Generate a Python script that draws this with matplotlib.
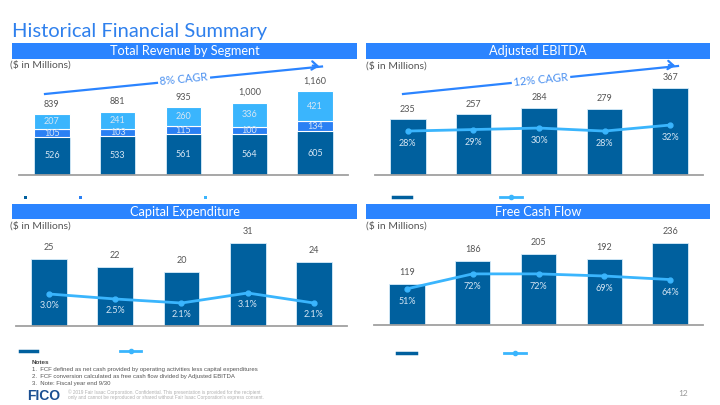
import matplotlib
matplotlib.use('Agg')
import matplotlib.pyplot as plt
from matplotlib.patches import Rectangle, FancyArrowPatch
from matplotlib.lines import Line2D

plt.rcParams['font.family'] = ['Lato', 'DejaVu Sans']

# data
years = ['FY15', 'FY16', 'FY17', 'FY18', 'FY19']
seg_bottom = [526, 533, 561, 564, 605]
seg_mid = [105, 103, 115, 100, 134]
seg_top = [207, 241, 260, 336, 421]
rev_total = [839, 881, 935, 1000, 1160]

ebitda = [235, 257, 284, 279, 367]
ebitda_margin = [28, 29, 30, 28, 32]

capex = [25, 22, 20, 31, 24]
capex_pct = [3.0, 2.5, 2.1, 3.1, 2.1]

fcf = [119, 186, 205, 192, 236]
fcf_conv = [51, 72, 72, 69, 64]

notes = ['1.  FCF defined as net cash provided by operating activities less capital expenditures',
         '2.  FCF conversion calculated as free cash flow divided by Adjusted EBITDA',
         '3.  Note: Fiscal year end 9/30']

DARK = '#00609e'
MID = '#2a80f4'
LIGHT = '#3ab5fd'
HEAD = '#2b84ff'
GREY = '#555555'
INNER = '#d6e6f4'

W, H = 720, 405
fig = plt.figure(figsize=(W / 100, H / 100), dpi=100)
fig.patch.set_facecolor('white')


def px_axes(l, t, r, b):
    return fig.add_axes([l / W, 1 - b / H, (r - l) / W, (b - t) / H])


def fx(x):
    return x / W


def fy(y):
    return 1 - y / H


def style(ax):
    for s in ['top', 'right', 'left']:
        ax.spines[s].set_visible(False)
    ax.spines['bottom'].set_color('#a0a0a0')
    ax.spines['bottom'].set_linewidth(1.3)
    ax.set_xticks([])
    ax.set_yticks([])
    ax.set_xlim(-0.5, 4.5)
    ax.patch.set_alpha(0)


def header(x0, x1, y0, y1, text):
    fig.patches.append(Rectangle((fx(x0), fy(y1)), fx(x1 - x0), (y1 - y0) / H,
                                 transform=fig.transFigure, facecolor=HEAD, edgecolor='none'))
    fig.text(fx((x0 + x1) / 2), fy((y0 + y1) / 2), text, color='white', fontsize=9.2,
             ha='center', va='center')


def cagr(x0, y0, x1, y1, label, tx, ty):
    fig.add_artist(Line2D([fx(x0), fx(x1)], [fy(y0), fy(y1)], color=HEAD, lw=1.6,
                          transform=fig.transFigure))
    fig.patches.append(FancyArrowPatch(
        (fx(x1 - 12), fy(y1 - 1.2)), (fx(x1), fy(y1)), transform=fig.transFigure,
        arrowstyle='->,head_length=4,head_width=3', color=HEAD, lw=1.6))
    fig.text(fx(tx), fy(ty), label, color='#4a90f0', fontsize=8, ha='center', va='center',
             rotation=5.6, bbox=dict(facecolor='white', edgecolor='none', pad=1.5))


# title
fig.text(fx(12), fy(31), 'Historical Financial Summary', color='#2f80ed', fontsize=14.5,
         ha='left', va='center')

header(12, 357, 43, 59, 'Total Revenue by Segment')
header(366, 710, 43, 59, 'Adjusted EBITDA')
header(12, 357, 204, 219, 'Capital Expenditure')
header(366, 710, 204, 219, 'Free Cash Flow')

for x, y in [(10, 65), (366, 66), (10, 226), (366, 226)]:
    fig.text(fx(x), fy(y), '($ in Millions)', color=GREY, fontsize=7.5, ha='left', va='center')

x = list(range(len(years)))
bw = 0.54
edge = dict(edgecolor='#d8ecfa', linewidth=0.6)

# revenue
ax1 = px_axes(19, 60, 348, 175)
style(ax1)
ax1.set_ylim(0, 115 / 0.0724)
ax1.bar(x, seg_bottom, bw, color=DARK, **edge)
ax1.bar(x, seg_mid, bw, bottom=seg_bottom, color=MID, edgecolor='white', linewidth=0.8)
mid_top = [a + b for a, b in zip(seg_bottom, seg_mid)]
ax1.bar(x, seg_top, bw, bottom=mid_top, color=LIGHT, edgecolor='white', linewidth=0.8)
for i in x:
    ax1.text(i, seg_bottom[i] / 2, str(seg_bottom[i]), color=INNER, fontsize=6.5, ha='center', va='center')
    ax1.text(i, seg_bottom[i] + seg_mid[i] / 2, str(seg_mid[i]), color=INNER, fontsize=6.5, ha='center', va='center')
    ax1.text(i, mid_top[i] + seg_top[i] / 2, str(seg_top[i]), color=INNER, fontsize=6.5, ha='center', va='center')
    ax1.annotate(f'{rev_total[i]:,}', (i, mid_top[i] + seg_top[i]), xytext=(0, 4),
                 textcoords='offset points', color=GREY, fontsize=6.5, ha='center', va='bottom')
cagr(45, 94, 322, 66.5, '8% CAGR', 184, 79.5)

# ebitda
ax2 = px_axes(375, 60, 703, 175)
style(ax2)
ax2.set_ylim(0, 115 / 0.237)
ax2.bar(x, ebitda, bw, color=DARK, **edge)
for i in x:
    ax2.annotate(str(ebitda[i]), (i, ebitda[i]), xytext=(0, 4), textcoords='offset points',
                 color=GREY, fontsize=6.5, ha='center', va='bottom')
ax2b = ax2.twinx()
style(ax2b)
ax2b.spines['bottom'].set_visible(False)
ax2b.set_ylim(-1.3, 115 / 1.5 - 1.3)
ax2b.plot(x, ebitda_margin, color=LIGHT, lw=2, marker='o', ms=3.5)
for i in x:
    ax2b.annotate(f'{ebitda_margin[i]}%', (i, ebitda_margin[i]), xytext=(0, -9),
                  textcoords='offset points', color=INNER, fontsize=6.5, ha='center', va='center')
cagr(403, 94, 678, 66, '12% CAGR', 541, 80)

# capex
ax3 = px_axes(16, 222, 347, 326)
style(ax3)
ax3.set_ylim(0, 104 / 2.68)
ax3.bar(x, capex, bw, color=DARK, **edge)
for i in x:
    ax3.annotate(str(capex[i]), (i, capex[i]), xytext=(0, 5), textcoords='offset points',
                 color=GREY, fontsize=6.5, ha='center', va='bottom')
ax3b = ax3.twinx()
style(ax3b)
ax3b.spines['bottom'].set_visible(False)
ax3b.set_ylim(-0.2, 104 / 10 - 0.2)
ax3b.plot(x, capex_pct, color=LIGHT, lw=2, marker='o', ms=3.5)
for i in x:
    ax3b.annotate(f'{capex_pct[i]:.1f}%', (i, capex_pct[i]), xytext=(0, -8.5),
                  textcoords='offset points', color=INNER, fontsize=6.5, ha='center', va='center')

# fcf
ax4 = px_axes(374, 222, 703, 325)
style(ax4)
ax4.set_ylim(0, 103 / 0.346)
ax4.bar(x, fcf, bw, color=DARK, **edge)
for i in x:
    ax4.annotate(str(fcf[i]), (i, fcf[i]), xytext=(0, 5), textcoords='offset points',
                 color=GREY, fontsize=6.5, ha='center', va='bottom')
ax4b = ax4.twinx()
style(ax4b)
ax4b.spines['bottom'].set_visible(False)
ax4b.set_ylim(0, 103 / 0.71)
ax4b.plot(x, fcf_conv, color=LIGHT, lw=2, marker='o', ms=3.5)
for i in x:
    ax4b.annotate(f'{fcf_conv[i]}%', (i, fcf_conv[i]), xytext=(0, -9),
                  textcoords='offset points', color=INNER, fontsize=6.5, ha='center', va='center')

# legend markers (labels are empty in the source)
for lx, c in [(25, DARK), (80, MID), (205, LIGHT)]:
    fig.patches.append(Rectangle((fx(lx - 1.5), fy(198.5)), fx(3), 3 / H,
                                 transform=fig.transFigure, facecolor=c, edgecolor='none'))


def legend_pair(bx0, bx1, lx0, lx1, y):
    fig.add_artist(Line2D([fx(bx0), fx(bx1)], [fy(y), fy(y)], color=DARK, lw=2.5,
                          transform=fig.transFigure))
    fig.add_artist(Line2D([fx(lx0), fx(lx1)], [fy(y), fy(y)], color=LIGHT, lw=2,
                          transform=fig.transFigure))
    fig.add_artist(Line2D([fx((lx0 + lx1) / 2)], [fy(y)], color=LIGHT, marker='o', ms=3,
                          transform=fig.transFigure))


legend_pair(393, 411, 500, 522, 197)
legend_pair(20, 37, 120, 141, 351)
legend_pair(397, 416, 504, 526, 353)

# notes and footer
note_font = ['Liberation Sans', 'DejaVu Sans']
fig.text(fx(32), fy(362), 'Notes', color='#444444', fontsize=4.6, fontweight='bold', ha='left',
         va='center', family=note_font)
for k, line in enumerate(notes):
    fig.text(fx(32), fy(369.5 + 7 * k), line, color='#555555', fontsize=4.3, ha='left', va='center',
             family=note_font)
fig.text(fx(27), fy(395.5), 'FICO', color='#1b4f91', fontsize=10, fontweight='bold', ha='left',
         va='center', family=note_font)
fig.text(fx(68), fy(392), '\u00a9 2019 Fair Isaac Corporation. Confidential. This presentation is provided for the recipient',
         color='#b0b0b0', fontsize=3.45, ha='left', va='center', family=note_font)
fig.text(fx(68), fy(398), "only and cannot be reproduced or shared without Fair Isaac Corporation's express consent.",
         color='#b0b0b0', fontsize=3.45, ha='left', va='center', family=note_font)
fig.text(fx(683), fy(394), '12', color='#999999', fontsize=6, ha='center', va='center')

fig.savefig('out.png', dpi=100)
